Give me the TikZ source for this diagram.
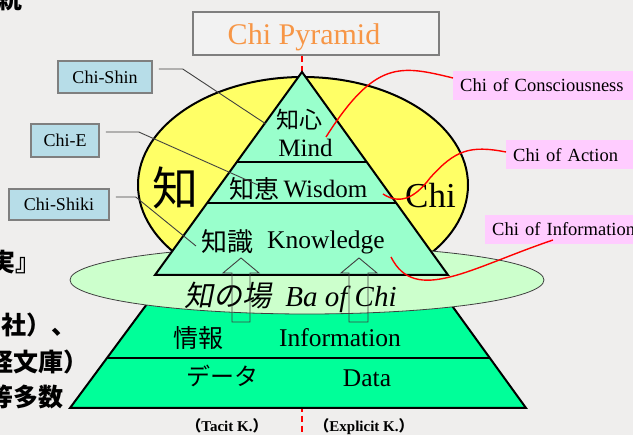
\documentclass[tikz,border=0pt]{standalone}
\usepackage{fontspec}
\setmainfont{Liberation Serif}
\newfontfamily\cjk{Noto Sans CJK JP}
\newfontfamily\cjksl{Noto Sans CJK JP}[FakeSlant=0.2]
\usetikzlibrary{shapes.geometric}
\definecolor{bgc}{HTML}{EFEEED}
\definecolor{lblue}{HTML}{B7DDE8}
\definecolor{pinkc}{HTML}{FFCCFF}
\definecolor{yelc}{HTML}{FFFF66}
\definecolor{tric}{HTML}{99FFCC}
\definecolor{lowc}{HTML}{00FF99}
\definecolor{gellc}{HTML}{CCFFCC}
\definecolor{titlefill}{HTML}{F2F2F2}
\definecolor{orangec}{HTML}{F79646}
\definecolor{grayc}{HTML}{7F7F7F}
\definecolor{darkc}{HTML}{404040}
\newcommand\myfs[1]{\fontsize{#1pt}{#1pt}\selectfont}
\begin{document}
\begin{tikzpicture}[x=1pt,y=-1pt,
  lbl/.style={draw=grayc, line width=1.5pt, fill=lblue, inner sep=0pt, font=\myfs{18}},
  pink/.style={fill=pinkc, inner ysep=0pt, inner xsep=7pt, anchor=west, align=left, font=\myfs{18.5}, minimum height=29pt},
  conn/.style={draw=darkc, line width=0.9pt},
  redc/.style={draw=red, line width=1.4pt},
  blk/.style={draw=black, line width=2pt, line join=miter},
  barrow/.style={draw=darkc, line width=0.9pt},
  frag/.style={font=\cjk\bfseries\myfs{25}, inner sep=0pt, anchor=west},
  jp/.style={font=\cjk\myfs{#1}, inner sep=0pt},
  lat/.style={font=\myfs{#1}, inner sep=0pt, anchor=base},
]
\useasboundingbox (0,0) rectangle (633,435);
\clip (0,0) rectangle (633,435);
\fill[bgc] (0,0) rectangle (633,435);

% background slide text fragments
\node[frag] (f1) at (-3,-1) {統};
\node[frag] (f2) at (-10,262) {実』};
\node[frag] (f3) at (1,325) {社）、};
\node[frag] (f4) at (-12,362) {経文庫）};
\node[frag] (f5) at (-12,397) {等多数};

% title
\coordinate (apex) at (302,72);
\node[draw=grayc, fill=titlefill, line width=1.5pt, minimum width=246pt, minimum height=43pt, inner sep=0pt] (title) at (316,33.5) {};
\draw[red, line width=2pt, dash pattern=on 6pt off 4pt] (apex |- title.south) -- (302,435);
\node[lat=30, text=orangec] (titletext) at (304,45) {Chi Pyramid};

% yellow ellipse
\node[draw=black, line width=2pt, fill=yelc, ellipse, minimum width=330pt, minimum height=216pt, inner sep=0pt] (yel) at (303,185) {};

% lower trapezoid
\draw[blk, fill=lowc] (70,408) -- (526,408) -- (437,285) -- (161,285) -- cycle;
\draw[blk] (107,358) -- (490,358);

% green ellipse
\node[draw=darkc, line width=0.8pt, fill=gellc, ellipse, minimum width=474pt, minimum height=68pt, inner sep=0pt] (ba) at (307,280) {};

% upper triangle
\draw[blk, fill=tric] (apex) -- (448,275) -- (155,275) -- cycle;
\draw[blk] (236.8,162) -- (366.7,162);
\draw[blk] (207.2,203) -- (396.2,203);

% texts
\node[jp=23] (jshin) at (299.5,120) {知心};
\node[lat=25] (mind) at (305.5,157) {Mind};
\node[jp=25] (je) at (254,189) {知恵};
\node[lat=25] (wisdom) at (325.5,198) {Wisdom};
\node[jp=26] (jshiki) at (227,242) {知識};
\node[lat=25.5] (know) at (326,249) {Knowledge};
\node[font=\cjksl\myfs{29}, inner sep=0pt] (jba) at (228,296) {知の場};
\node[lat=29, font=\itshape\myfs{29}] (bachi) at (341,307) {Ba of Chi};
\node[jp=25] (jinfo) at (198,338) {情報};
\node[lat=25.5] (info2) at (340,347) {Information};
\node[jp=24] (jdata) at (222,376) {データ};
\node[lat=25.5] (data) at (367,387) {Data};
\node[jp=46] (bigchi) at (175,188) {知};
\node[lat=35] (chien) at (430.5,208) {Chi};
\node[lat=15] (tacit) at (227,432) {{\cjk\bfseries （}\textbf{Tacit K.}{\cjk\bfseries ）}};
\node[lat=15] (explicit) at (364,432) {{\cjk\bfseries （}\textbf{Explicit K.}{\cjk\bfseries ）}};

% hollow up arrows
\draw[barrow] (241,258) -- (259,273) -- (250,273) -- (250,322) -- (232,322) -- (232,273) -- (223,273) -- cycle;
\draw[barrow] (359,258) -- (377,273) -- (368,273) -- (368,322) -- (349,322) -- (349,273) -- (341,273) -- cycle;

% left label boxes
\node[lbl, minimum width=94pt, minimum height=32pt] (shin) at (105,77) {Chi-Shin};
\node[lbl, minimum width=68pt, minimum height=33pt] (chie) at (65,140.5) {Chi-E};
\node[lbl, minimum width=100pt, minimum height=31pt] (shiki) at (59,204.5) {Chi-Shiki};
\coordinate (shinEnd) at (266,124);
\coordinate (chieEnd) at (258,185);
\coordinate (shikiEnd) at (196,246);
\draw[conn] ([xshift=6pt,yshift=8pt]shin.east) -- ++(24,0) -- (shinEnd);
\draw[conn] ([xshift=6pt,yshift=8.5pt]chie.east) -- ++(33,0) -- (chieEnd);
\draw[conn] ([xshift=6pt,yshift=7.5pt]shiki.east) -- ++(20,0) -- (shikiEnd);

% right pink labels
\node[pink, text width=176pt] (cons) at (453,85.5) {Chi of Consciousness};
\node[pink, text width=127pt] (act) at (506,155) {Chi of Action};
\node[pink, text width=148pt] (infol) at (485,229.5) {Chi of Information};
\coordinate (consEnd) at (326,137);
\coordinate (actEnd) at (383,194);
\coordinate (infoEnd) at (391,257);
\draw[redc] ([yshift=7.5pt]cons.west) .. controls (400,65) and (375,60) .. (consEnd);
\draw[redc] ([yshift=3pt]act.west) .. controls (470,145) and (455,150) .. (430,178) .. controls (415,198) and (400,205) .. (actEnd);
\draw[redc] ([xshift=68pt,yshift=-10.5pt]infol.west) .. controls (470,268) and (415,305) .. (infoEnd);
\end{tikzpicture}
\end{document}
